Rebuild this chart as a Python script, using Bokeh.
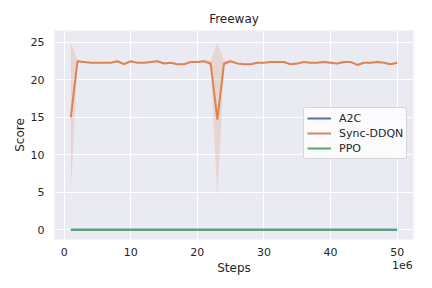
from bokeh.plotting import figure
from bokeh.models import FixedTicker, Range1d, Legend, LegendItem
from bokeh.embed import file_html
from bokeh.resources import INLINE

# Data (steps in units of 1e6)
steps = list(range(1, 51))
a2c = [0.0] * 50
ppo = [0.0] * 50
ddqn = [15.0, 22.5, 22.4, 22.3, 22.3, 22.3, 22.3, 22.5, 22.1, 22.5,
        22.3, 22.3, 22.4, 22.5, 22.2, 22.3, 22.1, 22.1, 22.4, 22.4,
        22.5, 22.2, 14.7, 22.2, 22.5, 22.2, 22.1, 22.1, 22.3, 22.3,
        22.4, 22.4, 22.4, 22.1, 22.2, 22.4, 22.3, 22.3, 22.4, 22.3,
        22.2, 22.4, 22.4, 22.0, 22.3, 22.3, 22.4, 22.3, 22.1, 22.3]
ddqn_spread = [10.0, 0.1, 0.1, 0.1, 0.1, 0.1, 0.1, 0.15, 0.15, 0.1,
               0.1, 0.1, 0.1, 0.1, 0.1, 0.1, 0.1, 0.1, 0.1, 0.1,
               0.1, 0.4, 10.2, 0.4, 0.1, 0.1, 0.1, 0.1, 0.1, 0.1,
               0.1, 0.1, 0.1, 0.15, 0.1, 0.1, 0.1, 0.1, 0.1, 0.2,
               0.1, 0.2, 0.1, 0.15, 0.1, 0.1, 0.15, 0.1, 0.1, 0.1]
x_ticks = [0, 10, 20, 30, 40, 50]
y_ticks = [0, 5, 10, 15, 20, 25]
x_offset_text = "1e6"

ddqn_lo = [m - s for m, s in zip(ddqn, ddqn_spread)]
ddqn_hi = [m + s for m, s in zip(ddqn, ddqn_spread)]

BLUE, ORANGE, GREEN = "#4C72B0", "#DD8452", "#55A868"
TXT = "#262626"
FONT = "DejaVu Sans"

X0, X1 = -1.45, 52.45
p = figure(width=424, height=280, output_backend="svg", toolbar_location=None,
           x_range=Range1d(X0, X1), y_range=Range1d(-1.3, 26.6),
           min_border_left=54, min_border_right=11, min_border_top=30, min_border_bottom=41)
p.background_fill_color = "#EAEAF2"
p.border_fill_color = "white"
p.outline_line_color = None

p.title.text = "Freeway"
p.title.align = "center"
p.title.text_font = FONT
p.title.text_font_size = "12px"
p.title.text_font_style = "normal"
p.title.text_color = TXT

for ax in (p.xaxis, p.yaxis):
    ax.axis_line_color = None
    ax.major_tick_line_color = None
    ax.minor_tick_line_color = None
    ax.major_tick_out = 0
    ax.major_tick_in = 0
    ax.minor_tick_out = 0
    ax.minor_tick_in = 0
    ax.major_label_text_font = FONT
    ax.major_label_text_font_size = "11px"
    ax.major_label_text_color = TXT
    ax.axis_label_text_font = FONT
    ax.axis_label_text_font_size = "12px"
    ax.axis_label_text_font_style = "normal"
    ax.axis_label_text_color = TXT
p.xaxis.ticker = FixedTicker(ticks=x_ticks)
p.yaxis.ticker = FixedTicker(ticks=y_ticks)
p.xaxis.major_label_overrides = {x_ticks[-1]: str(x_ticks[-1]) + "\n\u00a0\u00a0\u00a0" + x_offset_text}
p.xaxis.major_label_text_line_height = 1.0
p.xaxis.axis_label = "Steps"
p.yaxis.axis_label = "Score"
p.xaxis.major_label_standoff = 6
p.yaxis.major_label_standoff = 10
p.xaxis.axis_label_standoff = -14
p.yaxis.axis_label_standoff = 1

p.grid.grid_line_color = "white"
p.grid.grid_line_width = 1
p.xgrid.ticker = FixedTicker(ticks=x_ticks)
p.ygrid.ticker = FixedTicker(ticks=y_ticks)

p.varea(x=steps, y1=ddqn_lo, y2=ddqn_hi, fill_color=ORANGE, fill_alpha=0.2)
r1 = p.line(steps, a2c, line_color=BLUE, line_width=2)
r2 = p.line(steps, ddqn, line_color=ORANGE, line_width=2)
r3 = p.line(steps, ppo, line_color=GREEN, line_width=2)

legend = Legend(items=[LegendItem(label="A2C", renderers=[r1]),
                       LegendItem(label="Sync-DDQN", renderers=[r2]),
                       LegendItem(label="PPO", renderers=[r3])],
                location=(249, 80))
legend.background_fill_color = "white"
legend.background_fill_alpha = 0.8
legend.border_line_color = "#CCCCCC"
legend.border_line_alpha = 0.8
legend.border_radius = 3
legend.label_text_font = FONT
legend.label_text_font_size = "11px"
legend.label_text_color = TXT
legend.glyph_width = 24
legend.glyph_height = 14
legend.label_height = 14
legend.spacing = 1
legend.padding = 3
legend.margin = 0
legend.label_standoff = 8
p.add_layout(legend, "center")

open("out.html", "w").write(file_html(p, INLINE))
